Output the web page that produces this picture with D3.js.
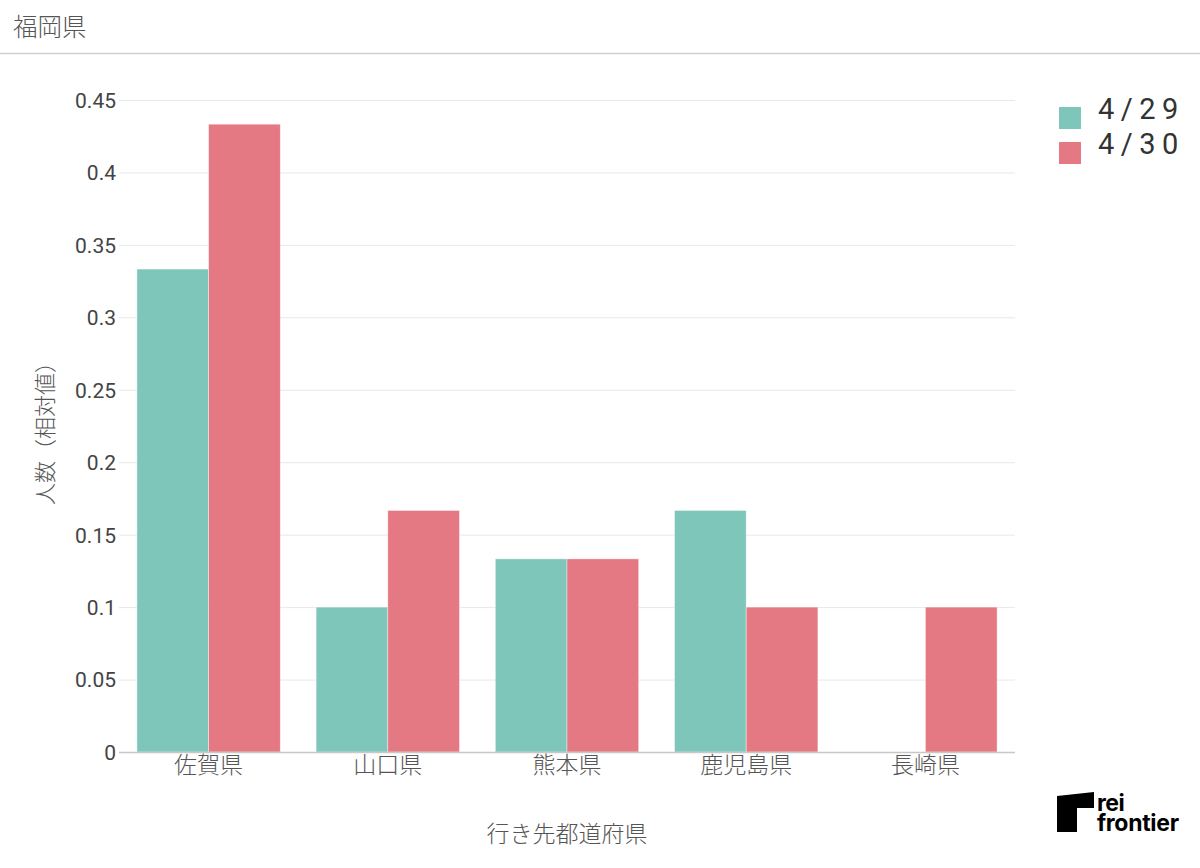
<!DOCTYPE html>
<html><head><meta charset="utf-8">
<script src="https://cdn.jsdelivr.net/npm/d3@7"></script>
<style>
html,body{margin:0;padding:0;background:#fff;}
svg{display:block;}
</style></head>
<body>
<svg id="chart" width="1200" height="868"></svg>
<script>
const title = "福岡県";
const categories = ["佐賀県", "山口県", "熊本県", "鹿児島県", "長崎県"];
const seriesNames = ["4/29", "4/30"];
const values0429 = [0.3333, 0.1, 0.1333, 0.1667, 0];
const values0430 = [0.4333, 0.1667, 0.1333, 0.1, 0.1];
const yTicks = [0, 0.05, 0.1, 0.15, 0.2, 0.25, 0.3, 0.35, 0.4, 0.45];
const yTickLabels = ["0", "0.05", "0.1", "0.15", "0.2", "0.25", "0.3", "0.35", "0.4", "0.45"];
const colors = ["#7EC6BA", "#E47883"];
const xTitle = "行き先都道府県";
const yTitle = "人数（相対値）";

const svg = d3.select("#chart");
const font = "Roboto, 'Noto Sans CJK JP', sans-serif";
const cjk = "'Noto Sans CJK JP', Roboto, sans-serif";

// title + separator
svg.append("text").attr("x", 13).attr("y", 36).text(title)
  .attr("font-family", cjk).attr("font-size", 24.5).attr("font-weight", 300).attr("fill", "#555");
svg.append("line").attr("x1", 0).attr("x2", 1200).attr("y1", 53.5).attr("y2", 53.5)
  .attr("stroke", "#cfcfcf").attr("stroke-width", 1.5);

const x0 = d3.scaleBand().domain(categories).range([119, 1015]).paddingInner(0.2).paddingOuter(0.1);
const x1 = d3.scaleBand().domain(seriesNames).range([0, x0.bandwidth()]).padding(0);
const y = d3.scaleLinear().domain([0, 0.45]).range([752, 100]);

// gridlines
svg.append("g").selectAll("line").data(yTicks.filter(d => d > 0)).join("line")
  .attr("x1", 119).attr("x2", 1015)
  .attr("y1", d => y(d) + 0.5).attr("y2", d => y(d) + 0.5)
  .attr("stroke", "#e8e8e8").attr("stroke-width", 1);

// y tick labels
const yAxis = d3.axisLeft(y).tickValues(yTicks).tickFormat((d, i) => yTickLabels[i]).tickSize(0).tickPadding(3);
const gy = svg.append("g").attr("transform", "translate(119,0)").call(yAxis);
gy.select(".domain").remove();
gy.selectAll("text").attr("font-family", font).attr("font-size", 21).attr("fill", "#444").attr("dy", "0.35em");

// bars
const rows = categories.map((c, i) => ({cat: c, vals: [values0429[i], values0430[i]]}));
const groups = svg.append("g").selectAll("g").data(rows).join("g")
  .attr("transform", d => `translate(${x0(d.cat)},0)`);
groups.selectAll("rect").data(d => d.vals.map((v, j) => ({v, s: seriesNames[j], j})))
  .join("rect")
  .attr("x", d => x1(d.s))
  .attr("width", x1.bandwidth())
  .attr("y", d => y(d.v))
  .attr("height", d => y(0) - y(d.v))
  .attr("fill", d => colors[d.j])
  .attr("stroke", "rgba(255,255,255,0.5)")
  .attr("stroke-width", d => d.v > 0 ? 0.8 : 0);

// x axis
const xAxis = d3.axisBottom(x0).tickSize(0).tickPadding(5);
const gx = svg.append("g").attr("transform", "translate(0,752)").call(xAxis);
gx.select(".domain").attr("stroke", "#c8c8c8").attr("stroke-width", 1.5)
  .attr("d", "M119,0.5H1015");
gx.selectAll("text").attr("font-family", cjk).attr("font-size", 23).attr("font-weight", 300).attr("fill", "#555");

// axis titles
svg.append("text").attr("x", 567).attr("y", 842).attr("text-anchor", "middle").text(xTitle)
  .attr("font-family", cjk).attr("font-size", 23).attr("font-weight", 300).attr("fill", "#555");
svg.append("text").attr("transform", "translate(53,428) rotate(-90)").attr("text-anchor", "middle").text(yTitle)
  .attr("font-family", cjk).attr("font-size", 22).attr("font-weight", 300).attr("fill", "#555");

// legend
const lg = svg.append("g").selectAll("g").data(seriesNames).join("g")
  .attr("transform", (d, i) => `translate(1059,${107 + i * 35})`);
lg.append("rect").attr("width", 22).attr("height", 22).attr("fill", (d, i) => colors[i]);
lg.append("text").attr("x", 39).attr("y", 2).attr("dy", "0.36em").text(d => d)
  .attr("font-family", font).attr("font-size", 29).attr("letter-spacing", 6.5).attr("fill", "#333");

// logo
const logo = svg.append("g");
logo.append("path").attr("d", "M1057,796 L1094,792 L1094,808 L1077,808 L1077,832 L1057,832 Z").attr("fill", "#000");
const lt = logo.append("text").attr("font-family", "Inter, Roboto, sans-serif").attr("font-weight", 700)
  .attr("font-size", 23).attr("fill", "#000");
lt.append("tspan").attr("x", 1097).attr("y", 811).attr("letter-spacing", -0.5).text("rei");
lt.append("tspan").attr("x", 1097).attr("y", 831).attr("letter-spacing", -0.3).text("frontier");
</script>
</body></html>
